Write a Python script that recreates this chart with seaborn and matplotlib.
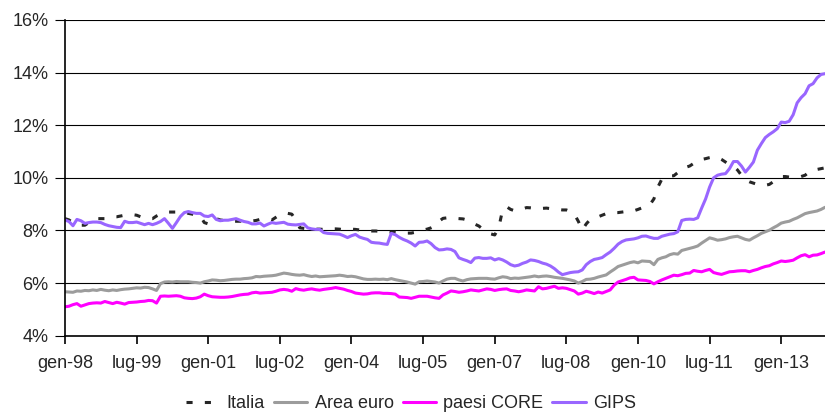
import numpy as np
import pandas as pd
import matplotlib
matplotlib.use("Agg")
import matplotlib.pyplot as plt
import seaborn as sns
from matplotlib.ticker import FuncFormatter

tick_labels = ["gen-98", "lug-99", "gen-01", "lug-02", "gen-04", "lug-05",
               "gen-07", "lug-08", "gen-10", "lug-11", "gen-13"]

italia = [
    8.45, 8.40, 8.30, 8.22, 8.20, 8.20, 8.30, 8.40, 8.45, 8.45, 8.45, 8.48,
    8.52, 8.52, 8.55, 8.58, 8.60, 8.60, 8.58, 8.52, 8.46, 8.45, 8.45, 8.55,
    8.62, 8.67, 8.70, 8.70, 8.70, 8.70, 8.70, 8.65, 8.62, 8.58, 8.55, 8.30,
    8.25, 8.45, 8.45, 8.40, 8.38, 8.35, 8.35, 8.35, 8.35, 8.37, 8.37, 8.36,
    8.38, 8.42, 8.45, 8.45, 8.40, 8.50, 8.60, 8.64, 8.65, 8.62, 8.40, 8.10,
    8.08, 8.06, 8.05, 8.05, 8.05, 8.04, 8.05, 8.06, 8.06, 8.05, 8.03, 8.04,
    8.05, 8.04, 8.02, 8.00, 7.99, 7.98, 7.98, 7.97, 7.96, 7.95, 7.94, 7.94,
    7.92, 7.90, 7.90, 7.90, 7.93, 7.98, 8.02, 8.05, 8.10, 8.17, 8.35, 8.46,
    8.48, 8.47, 8.46, 8.45, 8.44, 8.40, 8.32, 8.24, 8.17, 8.05, 7.95, 7.87,
    7.83, 8.10, 8.80, 8.90, 8.80, 8.75, 8.78, 8.82, 8.87, 8.86, 8.84, 8.82,
    8.84, 8.85, 8.83, 8.80, 8.80, 8.78, 8.78, 8.72, 8.62, 8.35, 8.02, 8.25,
    8.42, 8.47, 8.52, 8.58, 8.64, 8.67, 8.68, 8.68, 8.70, 8.72, 8.72, 8.75,
    8.80, 8.86, 8.90, 8.98, 9.20, 9.65, 9.95, 10.05, 10.07, 10.08, 10.20, 10.35,
    10.40, 10.45, 10.55, 10.65, 10.70, 10.73, 10.77, 10.80, 10.78, 10.70, 10.60, 10.50,
    10.45, 10.30, 10.10, 9.92, 9.85, 9.80, 9.75, 9.72, 9.72, 9.75, 9.85, 9.98,
    10.05, 10.05, 10.03, 10.03, 10.05, 10.05, 10.10, 10.22, 10.30, 10.32, 10.35, 10.38,
]

area_euro = [
    5.67, 5.66, 5.65, 5.70, 5.69, 5.72, 5.71, 5.74, 5.72, 5.76, 5.73, 5.71,
    5.74, 5.72, 5.75, 5.77, 5.78, 5.80, 5.82, 5.81, 5.84, 5.83, 5.78, 5.72,
    5.98, 6.04, 6.05, 6.04, 6.06, 6.05, 6.05, 6.05, 6.03, 6.02, 6.00, 6.05,
    6.08, 6.12, 6.11, 6.09, 6.10, 6.12, 6.14, 6.15, 6.15, 6.17, 6.18, 6.20,
    6.25, 6.24, 6.26, 6.27, 6.28, 6.30, 6.34, 6.38, 6.36, 6.33, 6.31, 6.30,
    6.32, 6.28, 6.25, 6.27, 6.24, 6.25, 6.26, 6.27, 6.28, 6.30, 6.28, 6.25,
    6.26, 6.24, 6.20, 6.16, 6.14, 6.14, 6.15, 6.14, 6.15, 6.13, 6.17, 6.13,
    6.10, 6.07, 6.04, 6.00, 5.96, 6.05, 6.06, 6.08, 6.06, 6.04, 6.00, 6.08,
    6.15, 6.18, 6.18, 6.12, 6.08, 6.13, 6.16, 6.17, 6.18, 6.18, 6.18, 6.16,
    6.15, 6.20, 6.24, 6.22, 6.17, 6.19, 6.18, 6.20, 6.22, 6.24, 6.27, 6.24,
    6.26, 6.27, 6.25, 6.22, 6.20, 6.18, 6.15, 6.12, 6.08, 6.00, 6.06, 6.14,
    6.15, 6.18, 6.23, 6.27, 6.31, 6.42, 6.52, 6.63, 6.68, 6.73, 6.78, 6.81,
    6.77, 6.84, 6.83, 6.82, 6.70, 6.90, 6.96, 7.00, 7.08, 7.12, 7.10, 7.24,
    7.28, 7.32, 7.36, 7.41, 7.52, 7.62, 7.72, 7.68, 7.63, 7.65, 7.68, 7.73,
    7.76, 7.78, 7.72, 7.66, 7.63, 7.72, 7.80, 7.89, 7.95, 8.01, 8.10, 8.18,
    8.28, 8.32, 8.35, 8.42, 8.48, 8.56, 8.64, 8.68, 8.71, 8.74, 8.80, 8.88,
]

paesi_core = [
    5.10, 5.12, 5.18, 5.22, 5.12, 5.17, 5.22, 5.24, 5.25, 5.24, 5.30, 5.26,
    5.22, 5.27, 5.24, 5.20, 5.26, 5.27, 5.28, 5.30, 5.31, 5.34, 5.33, 5.24,
    5.50, 5.51, 5.50, 5.51, 5.52, 5.50, 5.44, 5.42, 5.41, 5.43, 5.48, 5.58,
    5.52, 5.48, 5.47, 5.46, 5.46, 5.47, 5.49, 5.52, 5.55, 5.57, 5.58, 5.63,
    5.65, 5.62, 5.63, 5.64, 5.65, 5.69, 5.74, 5.76, 5.74, 5.69, 5.79, 5.75,
    5.73, 5.76, 5.78, 5.75, 5.73, 5.76, 5.78, 5.80, 5.83, 5.80, 5.77, 5.72,
    5.68, 5.62, 5.60, 5.58, 5.59, 5.62, 5.63, 5.63, 5.61, 5.61, 5.60, 5.58,
    5.47, 5.46, 5.45, 5.42, 5.46, 5.50, 5.50, 5.50, 5.47, 5.44, 5.42, 5.55,
    5.62, 5.70, 5.68, 5.65, 5.67, 5.70, 5.74, 5.72, 5.70, 5.74, 5.78, 5.76,
    5.72, 5.75, 5.77, 5.78, 5.72, 5.70, 5.67, 5.70, 5.74, 5.72, 5.70, 5.86,
    5.78, 5.80, 5.84, 5.88, 5.80, 5.82, 5.80, 5.75, 5.70, 5.58, 5.62, 5.69,
    5.65, 5.60, 5.66, 5.62, 5.68, 5.74, 5.92, 6.04, 6.09, 6.14, 6.20, 6.22,
    6.12, 6.11, 6.10, 6.06, 5.97, 6.05, 6.12, 6.18, 6.24, 6.30, 6.28, 6.32,
    6.37, 6.38, 6.48, 6.45, 6.43, 6.48, 6.52, 6.40, 6.36, 6.33, 6.38, 6.43,
    6.44, 6.46, 6.47, 6.47, 6.43, 6.48, 6.52, 6.58, 6.63, 6.66, 6.73, 6.78,
    6.84, 6.82, 6.84, 6.87, 6.96, 7.04, 7.08, 7.00, 7.06, 7.07, 7.12, 7.18,
]

gips = [
    8.40, 8.34, 8.18, 8.42, 8.37, 8.27, 8.30, 8.32, 8.32, 8.30, 8.23, 8.18,
    8.15, 8.12, 8.11, 8.35, 8.30, 8.30, 8.32, 8.27, 8.22, 8.27, 8.22, 8.27,
    8.34, 8.45, 8.27, 8.08, 8.30, 8.53, 8.68, 8.72, 8.68, 8.65, 8.65, 8.55,
    8.53, 8.59, 8.42, 8.37, 8.39, 8.39, 8.42, 8.45, 8.39, 8.34, 8.31, 8.25,
    8.25, 8.28, 8.17, 8.24, 8.30, 8.27, 8.29, 8.31, 8.24, 8.22, 8.21, 8.23,
    8.25, 8.10, 8.06, 8.04, 8.04, 7.92, 7.89, 7.88, 7.87, 7.86, 7.80, 7.73,
    7.80, 7.85, 7.75, 7.70, 7.66, 7.55, 7.53, 7.52, 7.49, 7.47, 7.89, 7.84,
    7.74, 7.66, 7.60, 7.52, 7.41, 7.55, 7.56, 7.60, 7.50, 7.35, 7.26, 7.27,
    7.30, 7.28, 7.20, 6.96, 6.90, 6.85, 6.78, 6.95, 6.97, 6.94, 6.94, 6.96,
    6.88, 6.93, 6.88, 6.80, 6.70, 6.65, 6.68, 6.75, 6.80, 6.88, 6.86, 6.82,
    6.76, 6.72, 6.65, 6.55, 6.42, 6.32, 6.36, 6.40, 6.42, 6.43, 6.50, 6.70,
    6.82, 6.90, 6.93, 6.97, 7.08, 7.18, 7.32, 7.48, 7.58, 7.64, 7.66, 7.68,
    7.72, 7.78, 7.79, 7.74, 7.70, 7.70, 7.78, 7.82, 7.86, 7.88, 7.95, 8.38,
    8.42, 8.43, 8.42, 8.48, 8.85, 9.20, 9.65, 10.00, 10.10, 10.14, 10.16, 10.35,
    10.62, 10.62, 10.45, 10.22, 10.40, 10.60, 11.05, 11.30, 11.53, 11.65, 11.75, 11.87,
    12.12, 12.10, 12.15, 12.40, 12.85, 13.05, 13.20, 13.50, 13.58, 13.80, 13.93, 13.96,
]

series_names = ["Italia", "Area euro", "paesi CORE", "GIPS"]
series_values = [italia, area_euro, paesi_core, gips]

n = len(gips)
frames = []
for name, vals in zip(series_names, series_values):
    frames.append(pd.DataFrame({"mese": np.arange(n), "valore": vals, "serie": name}))
df = pd.concat(frames, ignore_index=True)

sns.set_style("white")
plt.rcParams["font.family"] = ["Liberation Sans", "DejaVu Sans"]

fig = plt.figure(figsize=(8.25, 4.12), dpi=100)
ax = fig.add_axes([65 / 825, (412 - 335.7) / 412, 760 / 825, (335.7 - 20) / 412])

palette = {"Italia": "#262626", "Area euro": "#9C9C9C",
           "paesi CORE": "#FF00FF", "GIPS": "#9966FF"}
dashes = {"Italia": (2, 4), "Area euro": "", "paesi CORE": "", "GIPS": ""}

sns.lineplot(data=df, x="mese", y="valore", hue="serie", style="serie",
             hue_order=series_names, style_order=series_names,
             palette=palette, dashes=dashes, linewidth=2.2, ax=ax,
             legend="full")

ax.set_xlim(0, n - 1)
ax.set_ylim(4, 16)
ax.set_yticks(np.arange(4, 17, 2))
ax.yaxis.set_major_formatter(FuncFormatter(lambda v, p: f"{int(round(v))}%"))
ax.set_xticks(np.arange(0, 181, 18))
ax.set_xticklabels(tick_labels)
ax.set_xlabel("")
ax.set_ylabel("")

ax.grid(axis="y", color="black", linewidth=0.8)
ax.grid(axis="x", visible=False)
ax.set_axisbelow(True)
for s in ["top", "right"]:
    ax.spines[s].set_visible(False)
for s in ["left", "bottom"]:
    ax.spines[s].set_color("black")
    ax.spines[s].set_linewidth(1.2)

ax.tick_params(axis="x", direction="out", length=6, width=1.2, color="black",
               labelsize=13, pad=8, bottom=True)
ax.tick_params(axis="y", direction="out", length=7, width=0.8, color="black",
               labelsize=13, pad=5, left=True)

handles, labels = ax.get_legend_handles_labels()
ax.legend_.remove()
fig.legend(handles, labels, loc="center", bbox_to_anchor=(411 / 825, 1 - 404 / 412),
           ncol=4, frameon=False, fontsize=13, handlelength=1.85,
           handletextpad=0.4, columnspacing=0.5, borderaxespad=0)

fig.savefig("out.png", dpi=100)
